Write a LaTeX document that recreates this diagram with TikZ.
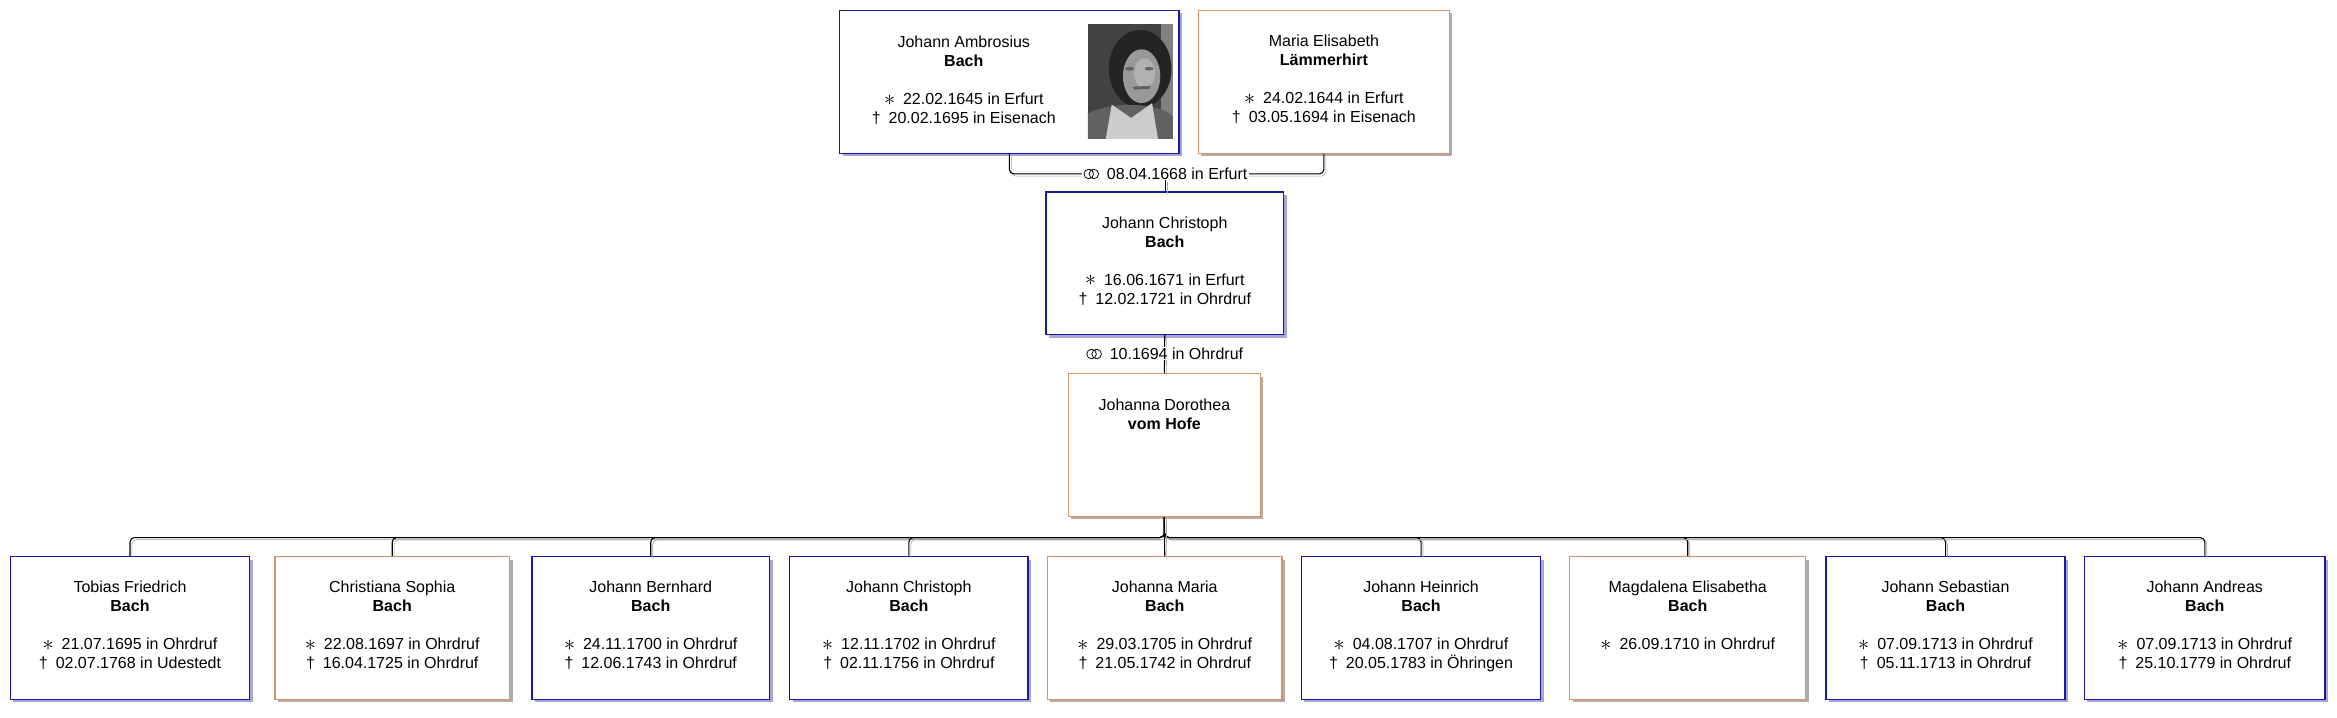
\documentclass[tikz,border=0pt]{standalone}
\usepackage{fontspec}
\usepackage{graphicx}
\setmainfont{Liberation Sans}
\usetikzlibrary{positioning, shadows}

\definecolor{maleblue}{RGB}{24,24,160}
\definecolor{femaleorange}{RGB}{215,145,105}
\definecolor{maleshadow}{RGB}{165,165,215}
\definecolor{femaleshadow}{RGB}{182,172,166}
\definecolor{linkgray}{RGB}{168,168,168}

\newcommand{\rings}{\tikz[baseline=-3.4pt]{\draw[line width=0.5pt, fill=none, draw=black] (0,0) circle (3.2pt) (3.4pt,0) circle (3.2pt);}}
\newcommand{\born}{\raisebox{-0.4pt}{\scalebox{1.35}{$\ast$}}}

\begin{document}
\begin{tikzpicture}[x=1pt, y=-1pt]%
            \tikzstyle{person}=[rectangle, line width=0.8pt, fill=white, minimum height=95.5pt, align=center, font=\fontsize{10.7}{12.7}\selectfont, execute at begin node=\strut, execute at end node=\strut];%
            \tikzstyle{male}=[person, draw=maleblue, drop shadow={fill=maleshadow, opacity=1, shadow xshift=2pt, shadow yshift=-2pt}];%
            \tikzstyle{female}=[person, draw=femaleorange, drop shadow={fill=femaleshadow, opacity=1, shadow xshift=2pt, shadow yshift=-2pt}];%
            \tikzstyle{link}=[line width=0.7pt, rounded corners=3pt, preaction={draw=linkgray, transform canvas={shift={(1.3,1.5)}}}];%
            \tikzstyle{wed}=[fill=white, inner xsep=1pt, inner ysep=0.5pt, font=\fontsize{10.7}{12.7}\selectfont];%
            \useasboundingbox (0,0) rectangle (1564,480.5);

            \node (0) at (675.5, 54.75) [male, minimum width=227pt] {\begin{tabular}{@{}c@{}}Johann Ambrosius\\\textbf{Bach}\\ \\\born\enspace 22.02.1645 in Erfurt\\†\enspace 20.02.1695 in Eisenach\end{tabular}\hspace{61pt}};
            \node (1) at (886, 54.75) [female, minimum width=168pt] {Maria Elisabeth\\\textbf{Lämmerhirt}\\\strut\\\born\enspace 24.02.1644 in Erfurt\\†\enspace 03.05.1694 in Eisenach};

            \begin{scope}
                \clip (728,16) rectangle (785,93);
                \fill[black!74] (728,16) rectangle (785,93);
                \fill[black!50] (777,16) rectangle (785,93);
                \fill[black!86] (763,46) ellipse (21 and 26);
                \fill[black!62] (728,93) -- (728,76) .. controls (742,68) and (776,68) .. (785,78) -- (785,93) -- cycle;
                \fill[black!20] (744,70) -- (757,79) -- (771,69) -- (775,93) -- (740,93) -- cycle;
                \fill[black!40] (764,51) ellipse (12.5 and 18);
                \fill[black!30] (766,49) ellipse (7 and 10);
                \fill[black!62] (758,58) -- (770,57.5) -- (769,59.5) -- (759,60) -- cycle;
                \fill[black!62] (756,46) ellipse (3 and 1.2);
                \fill[black!62] (769,46) ellipse (3 and 1.2);
            \end{scope}

            \node (2) at (779.5, 176.2) [male, minimum width=159pt] {Johann Christoph\\\textbf{Bach}\\\strut\\\born\enspace 16.06.1671 in Erfurt\\†\enspace 12.02.1721 in Ohrdruf};
            \node (3) at (779.25, 297.9) [female, minimum width=128.5pt] {Johanna Dorothea\\\textbf{vom Hofe}\\\strut\\\strut\\\strut};

            \node (4) at (87, 420.25) [male, minimum width=160pt] {Tobias Friedrich\\\textbf{Bach}\\\strut\\\born\enspace 21.07.1695 in Ohrdruf\\†\enspace 02.07.1768 in Udestedt};
            \node (5) at (262.5, 420.25) [female, minimum width=157pt] {Christiana Sophia\\\textbf{Bach}\\\strut\\\born\enspace 22.08.1697 in Ohrdruf\\†\enspace 16.04.1725 in Ohrdruf};
            \node (6) at (435.5, 420.25) [male, minimum width=159pt] {Johann Bernhard\\\textbf{Bach}\\\strut\\\born\enspace 24.11.1700 in Ohrdruf\\†\enspace 12.06.1743 in Ohrdruf};
            \node (7) at (608.25, 420.25) [male, minimum width=159.5pt] {Johann Christoph\\\textbf{Bach}\\\strut\\\born\enspace 12.11.1702 in Ohrdruf\\†\enspace 02.11.1756 in Ohrdruf};
            \node (8) at (779.5, 420.25) [female, minimum width=157pt] {Johanna Maria\\\textbf{Bach}\\\strut\\\born\enspace 29.03.1705 in Ohrdruf\\†\enspace 21.05.1742 in Ohrdruf};
            \node (9) at (951, 420.25) [male, minimum width=160pt] {Johann Heinrich\\\textbf{Bach}\\\strut\\\born\enspace 04.08.1707 in Ohrdruf\\†\enspace 20.05.1783 in Öhringen};
            \node (10) at (1129.5, 420.25) [female, minimum width=158pt] {Magdalena Elisabetha\\\textbf{Bach}\\\strut\\\born\enspace 26.09.1710 in Ohrdruf\\\strut};
            \node (11) at (1302, 420.25) [male, minimum width=160pt] {Johann Sebastian\\\textbf{Bach}\\\strut\\\born\enspace 07.09.1713 in Ohrdruf\\†\enspace 05.11.1713 in Ohrdruf};
            \node (12) at (1475.5, 420.25) [male, minimum width=161pt] {Johann Andreas\\\textbf{Bach}\\\strut\\\born\enspace 07.09.1713 in Ohrdruf\\†\enspace 25.10.1779 in Ohrdruf};

            \draw[link] (0.south) -- ++(0,13.5) -| (1.south);
            \node[wed] (w1) at (780, 116) {\rings\enspace 08.04.1668 in Erfurt};
            \draw[link] (w1.south) -- (w1.south |- 2.north);

            \draw[link] (2.south) -- (3.north);
            \node[wed] (w2) at (779.5, 236.5) {\rings\enspace 10.1694 in Ohrdruf};

            \foreach \k in {4,5,6,7,9,10,11,12}
                \draw[link] (3.south) -- ++(0,13.7) -| (\k.north);
            \draw[link] (3.south) -- (8.north);
        \end{tikzpicture}
\end{document}
